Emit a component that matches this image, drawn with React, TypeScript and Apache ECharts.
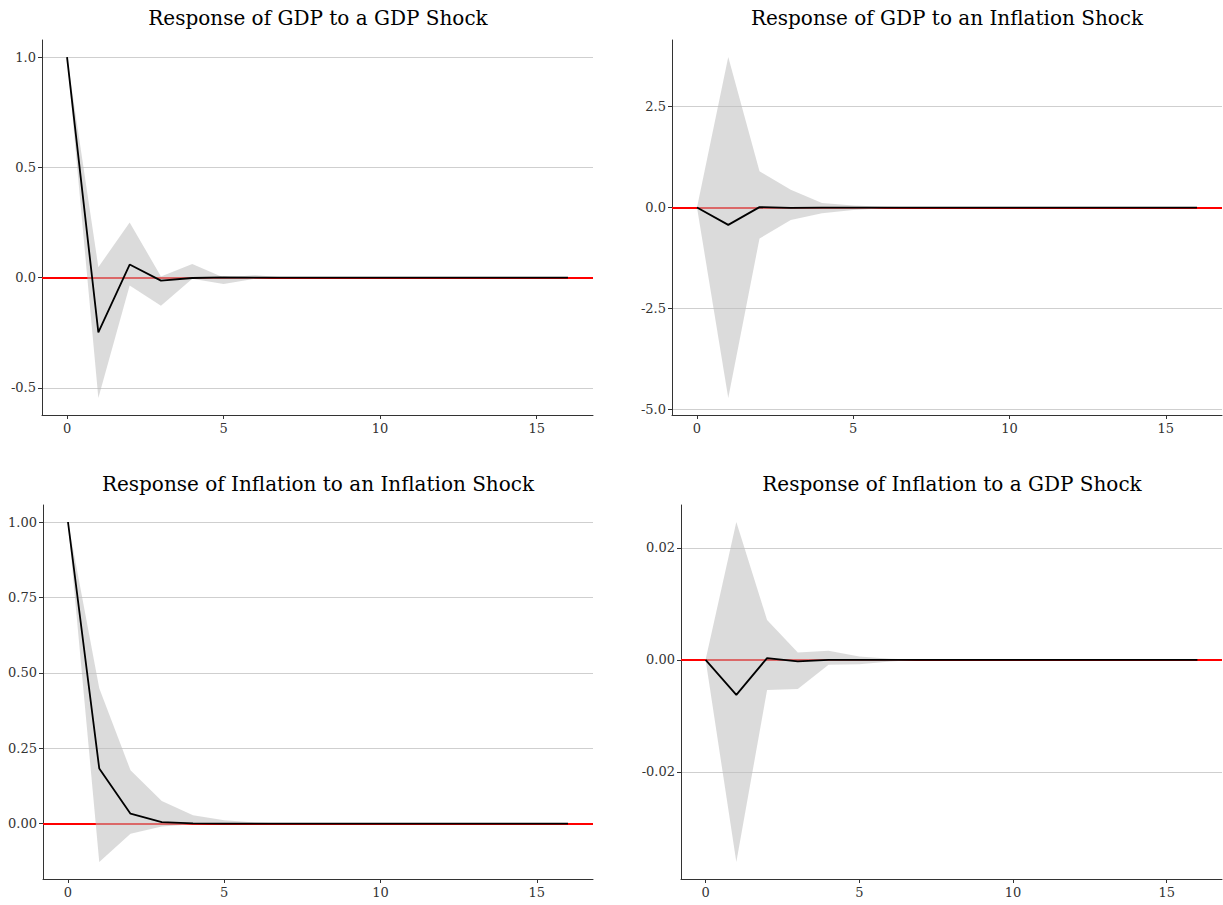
import React, { useEffect, useRef } from "react";
import * as echarts from "echarts";

const horizons = [0, 1, 2, 3, 4, 5, 6, 7, 8, 9, 10, 11, 12, 13, 14, 15, 16];
const xTicks = [0, 5, 10, 15];

const titles = [
  "Response of GDP to a GDP Shock",
  "Response of GDP to an Inflation Shock",
  "Response of Inflation to an Inflation Shock",
  "Response of Inflation to a GDP Shock",
];

// Panel 1: GDP -> GDP
const irfGdpGdp = [1.0, -0.249, 0.059, -0.014, -0.002, 0.0005, 0, 0, 0, 0, 0, 0, 0, 0, 0, 0, 0];
const lowerGdpGdp = [1.0, -0.546, -0.036, -0.128, -0.005, -0.029, -0.005, 0, 0, 0, 0, 0, 0, 0, 0, 0, 0];
const upperGdpGdp = [1.0, 0.047, 0.25, 0.005, 0.062, 0.0, 0.01, 0, 0, 0, 0, 0, 0, 0, 0, 0, 0];
const yTicksGdpGdp = [-0.5, 0, 0.5, 1.0];

// Panel 2: Inflation shock -> GDP
const irfGdpInf = [0, -0.43, 0.01, -0.01, 0.0, 0.0, 0, 0, 0, 0, 0, 0, 0, 0, 0, 0, 0];
const lowerGdpInf = [0, -4.72, -0.77, -0.31, -0.14, -0.06, -0.02, -0.01, 0, 0, 0, 0, 0, 0, 0, 0, 0];
const upperGdpInf = [0, 3.73, 0.9, 0.44, 0.11, 0.05, 0.02, 0.01, 0, 0, 0, 0, 0, 0, 0, 0, 0];
const yTicksGdpInf = [-5.0, -2.5, 0, 2.5];

// Panel 3: Inflation -> Inflation
const irfInfInf = [1.0, 0.183, 0.033, 0.005, 0.001, 0.0002, 0, 0, 0, 0, 0, 0, 0, 0, 0, 0, 0];
const lowerInfInf = [1.0, -0.127, -0.033, -0.009, -0.002, 0.0, 0, 0, 0, 0, 0, 0, 0, 0, 0, 0, 0];
const upperInfInf = [1.0, 0.449, 0.177, 0.075, 0.028, 0.011, 0.004, 0.001, 0, 0, 0, 0, 0, 0, 0, 0, 0];
const yTicksInfInf = [0, 0.25, 0.5, 0.75, 1.0];

// Panel 4: GDP shock -> Inflation
const irfInfGdp = [0, -0.00625, 0.0003, -0.0003, 0.0, 0, 0, 0, 0, 0, 0, 0, 0, 0, 0, 0, 0];
const lowerInfGdp = [0, -0.0361, -0.0054, -0.0052, -0.0009, -0.0008, -0.0003, 0, 0, 0, 0, 0, 0, 0, 0, 0, 0];
const upperInfGdp = [0, 0.0246, 0.0071, 0.0013, 0.0016, 0.0006, 0.0002, 0, 0, 0, 0, 0, 0, 0, 0, 0, 0];
const yTicksInfGdp = [-0.02, 0, 0.02];

const panels = [
  { irf: irfGdpGdp, lower: lowerGdpGdp, upper: upperGdpGdp, yTicks: yTicksGdpGdp, digits: 1 },
  { irf: irfGdpInf, lower: lowerGdpInf, upper: upperGdpInf, yTicks: yTicksGdpInf, digits: 1 },
  { irf: irfInfInf, lower: lowerInfInf, upper: upperInfInf, yTicks: yTicksInfInf, digits: 2 },
  { irf: irfInfGdp, lower: lowerInfGdp, upper: upperInfGdp, yTicks: yTicksInfGdp, digits: 2 },
];

const grids = [
  { left: 42, right: 630, top: 40, bottom: 490 },
  { left: 672, right: 1, top: 40, bottom: 490 },
  { left: 43, right: 630, top: 505, bottom: 26 },
  { left: 681, right: 1, top: 505, bottom: 26 },
];
const titlePos = [
  { x: 318, y: 18 },
  { x: 947, y: 18 },
  { x: 318, y: 484 },
  { x: 952, y: 484 },
];

const FONT = "'DejaVu Serif', 'Liberation Serif', serif";

export default function App() {
  const ref = useRef<HTMLDivElement>(null);
  useEffect(() => {
    if (!ref.current) return;
    const chart = echarts.init(ref.current, undefined, { renderer: "svg" });
    const xMinData = horizons[0];
    const xMaxData = horizons[horizons.length - 1];
    const xPad = (xMaxData - xMinData) * 0.05;

    const xAxes: any[] = [];
    const yAxes: any[] = [];
    const series: any[] = [];

    panels.forEach((p, i) => {
      const lo = Math.min(...p.lower, ...p.irf);
      const hi = Math.max(...p.upper, ...p.irf);
      const pad = (hi - lo) * 0.05;
      xAxes.push({
        type: "value",
        gridIndex: i,
        min: xMinData - xPad,
        max: xMaxData + xPad,
        axisLine: { onZero: false, lineStyle: { color: "#333", width: 1 } },
        axisTick: { show: true, length: 4, customValues: xTicks, lineStyle: { color: "#333" } },
        axisLabel: {
          customValues: xTicks,
          margin: 7,
          fontFamily: FONT,
          fontSize: 13,
          color: "#333",
          formatter: (v: number) => String(v),
        },
        splitLine: { show: false },
      });
      yAxes.push({
        type: "value",
        gridIndex: i,
        min: lo - pad,
        max: hi + pad,
        axisLine: { show: true, onZero: false, lineStyle: { color: "#333", width: 1 } },
        axisTick: { show: true, length: 4, customValues: p.yTicks, lineStyle: { color: "#333" } },
        axisLabel: {
          customValues: p.yTicks,
          margin: 6,
          fontFamily: FONT,
          fontSize: 13,
          color: "#333",
          formatter: (v: number) => v.toFixed(p.digits),
        },
        splitLine: { show: true, lineStyle: { color: "#cfcfcf", width: 1 } },
      });
      // zero reference line (red), drawn beneath the band
      series.push({
        type: "line",
        xAxisIndex: i,
        yAxisIndex: i,
        data: [],
        symbol: "none",
        silent: true,
        z: 1,
        markLine: {
          silent: true,
          z: 1,
          symbol: "none",
          label: { show: false },
          lineStyle: { color: "#ff0000", width: 1.8, type: "solid" },
          data: [{ yAxis: 0 }],
        },
      });
      // confidence band as one polygon
      series.push({
        type: "custom",
        xAxisIndex: i,
        yAxisIndex: i,
        silent: true,
        z: 2,
        data: horizons.map((h, k) => [h, p.lower[k], p.upper[k]]),
        encode: { x: 0, y: [1, 2] },
        renderItem: (params: any, api: any) => {
          if (params.dataIndex !== 0) return null;
          const top = horizons.map((h, k) => api.coord([h, p.upper[k]]));
          const bottom = horizons.map((h, k) => api.coord([h, p.lower[k]])).reverse();
          return {
            type: "polygon",
            shape: { points: top.concat(bottom) },
            style: { fill: "rgba(190,190,190,0.55)", stroke: "none" },
          };
        },
      });
      series.push({
        type: "line",
        xAxisIndex: i,
        yAxisIndex: i,
        data: horizons.map((h, k) => [h, p.irf[k]]),
        symbol: "none",
        lineStyle: { color: "#000", width: 1.8 },
        silent: true,
        z: 3,
      });
    });

    chart.setOption({
      animation: false,
      backgroundColor: "#fff",
      grid: grids,
      xAxis: xAxes,
      yAxis: yAxes,
      series,
      graphic: titles.map((t, i) => ({
        type: "text",
        x: titlePos[i].x,
        y: titlePos[i].y,
        style: {
          text: t,
          align: "center",
          verticalAlign: "middle",
          fontFamily: FONT,
          fontSize: 20,
          fill: "#000",
        },
      })),
    });
    return () => chart.dispose();
  }, []);
  return (
    <div
      ref={ref}
      style={{ position: "absolute", left: 0, top: 0, width: 1223, height: 905 }}
    />
  );
}
